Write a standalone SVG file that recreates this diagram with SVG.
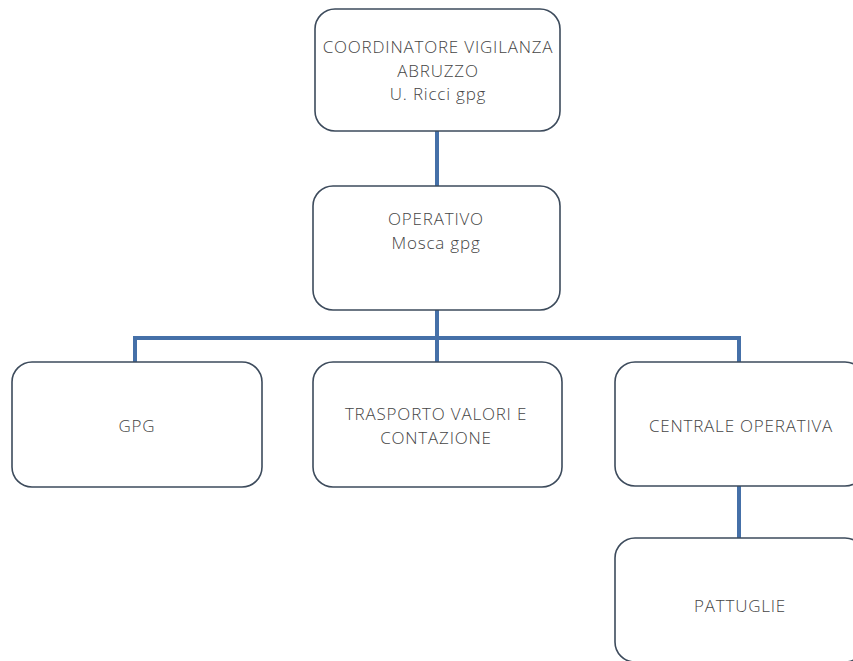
<svg xmlns="http://www.w3.org/2000/svg" width="853" height="661" viewBox="0 0 853 661">
<style>
.box{fill:#ffffff;stroke:#3d4b5c;stroke-width:1.6}
.t{font-family:"Open Sans","Liberation Sans",sans-serif;font-size:17px;font-weight:300;letter-spacing:0.8px;fill:#454545;text-anchor:middle}
.c{fill:none;stroke:#4570a8;stroke-width:4}
</style>
<rect width="853" height="661" fill="#ffffff"/>
<g id="connectors">
<path class="c" d="M437 131V186"/>
<path class="c" d="M437 310V338"/>
<path class="c" d="M135 362V338H739V362"/>
<path class="c" d="M437 338V362"/>
<path class="c" d="M739 486V538"/>
</g>
<g id="coordinatore">
<rect class="box" x="315" y="9" width="245" height="122" rx="20"/>
<text class="t" x="438" y="53">COORDINATORE VIGILANZA</text>
<text class="t" x="438" y="76.5">ABRUZZO</text>
<text class="t" x="438" y="100">U. Ricci gpg</text>
</g>
<g id="operativo">
<rect class="box" x="313" y="186" width="247" height="124" rx="20"/>
<text class="t" x="436" y="225">OPERATIVO</text>
<text class="t" x="436" y="249">Mosca gpg</text>
</g>
<g id="gpg">
<rect class="box" x="12" y="362" width="250" height="125" rx="20"/>
<text class="t" x="137" y="432">GPG</text>
</g>
<g id="trasporto">
<rect class="box" x="313" y="362" width="249" height="125" rx="20"/>
<text class="t" x="436" y="420">TRASPORTO VALORI E</text>
<text class="t" x="436" y="443.5">CONTAZIONE</text>
</g>
<g id="centrale">
<rect class="box" x="615" y="362" width="250" height="124" rx="20"/>
<text class="t" x="741" y="432">CENTRALE OPERATIVA</text>
</g>
<g id="pattuglie">
<rect class="box" x="615" y="538" width="250" height="124" rx="20"/>
<text class="t" x="740" y="612">PATTUGLIE</text>
</g>
</svg>
